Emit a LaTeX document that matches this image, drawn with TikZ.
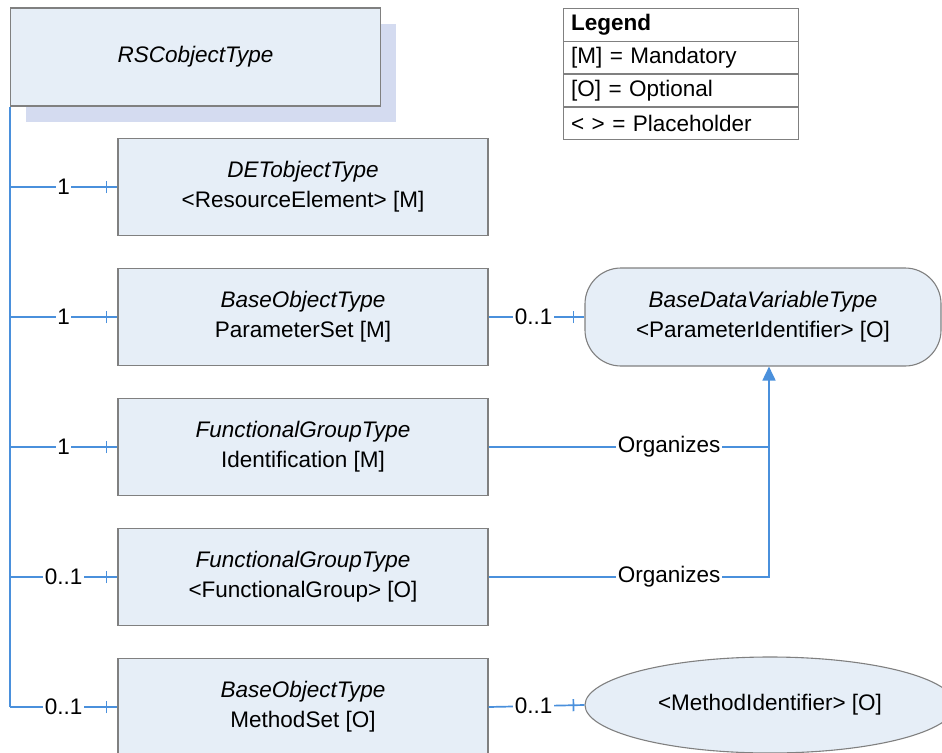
\documentclass[tikz,border=0pt]{standalone}
\usepackage{fontspec}
\setmainfont{Liberation Sans}
\usetikzlibrary{arrows.meta,shapes.geometric,decorations.markings}
\definecolor{boxfill}{RGB}{230,238,247}
\definecolor{shadowc}{RGB}{212,219,240}
\definecolor{bordc}{RGB}{128,128,128}
\definecolor{linec}{RGB}{74,144,220}
\tikzset{
  txt/.style={font=\fontsize{22.5}{30}\selectfont, text=black},
  ebox/.style={txt, draw=bordc, line width=1.1pt, fill=boxfill, minimum width=370pt, minimum height=97pt, align=center, inner sep=0pt},
  conn/.style={draw=linec, line width=1.7pt},
  lbl/.style={txt, fill=white, inner xsep=1.5pt, inner ysep=0pt},
  tickend/.style={postaction={decorate}, decoration={markings, mark=at position -11pt with {\draw[linec, line width=1.7pt] (0,-6pt) -- (0,6pt);}}},
  legrow/.style={txt, draw=bordc, line width=0.9pt, fill=white, minimum width=235pt, text width=219pt, inner xsep=8pt, inner ysep=0pt, align=left}
}
\begin{document}
\begin{tikzpicture}[x=1pt,y=-1pt]
\useasboundingbox (0,0) rectangle (942,752);
\clip (0,0) rectangle (942,752);
% shadow of top node
\fill[shadowc] (26,24) rectangle (396,122);
\node[ebox, minimum height=98pt] (rsc) at (195.5,57) {\textit{RSCobjectType}};
% legend
\node[legrow, minimum height=33pt] (lg0) at (680.5,24.5) {\textbf{Legend}};
\node[legrow, minimum height=32pt, anchor=north] (lg1) at (lg0.south) {[M] = Mandatory};
\node[legrow, minimum height=32pt, anchor=north] (lg2) at (lg1.south) {[O] = Optional};
\node[legrow, minimum height=32pt, anchor=north] (lg3) at (lg2.south) {< > = Placeholder};
% boxes
\node[ebox] (det) at (303,187) {\textit{DETobjectType}\\<ResourceElement> [M]};
\node[ebox] (bps) at (303,317) {\textit{BaseObjectType}\\ParameterSet [M]};
\node[ebox] (fg1) at (303,447) {\textit{FunctionalGroupType}\\Identification [M]};
\node[ebox] (fg2) at (303,577) {\textit{FunctionalGroupType}\\<FunctionalGroup> [O]};
\node[ebox] (meth) at (303,707) {\textit{BaseObjectType}\\MethodSet [O]};
\node[ebox, minimum width=356pt, minimum height=98pt, rounded corners=36pt] (bdv) at (763,317) {\textit{BaseDataVariableType}\\<ParameterIdentifier> [O]};
\node[ebox, ellipse, minimum width=370pt, minimum height=96pt] (mid) at (770,705) {<MethodIdentifier> [O]};
% trunk
\draw[conn] (rsc.south west) -- (rsc.south west |- meth.west);
\draw[conn,tickend] (rsc.south west |- det.west) -- node[lbl]{1} (det.west);
\draw[conn,tickend] (rsc.south west |- bps.west) -- node[lbl]{1} (bps.west);
\draw[conn,tickend] (rsc.south west |- fg1.west) -- node[lbl]{1} (fg1.west);
\draw[conn,tickend] (rsc.south west |- fg2.west) -- node[lbl]{0..1} (fg2.west);
\draw[conn,tickend] (rsc.south west |- meth.west) -- node[lbl]{0..1} (meth.west);
% right connectors
\draw[conn,tickend] (bps.east) -- node[lbl,pos=0.47]{0..1} (bdv.west);
\draw[conn,tickend] (meth.east) -- node[lbl,pos=0.47]{0..1} (mid.west);
\coordinate (ax) at (769,577);
\draw[conn] (fg1.east) -- node[lbl,pos=0.644]{Organizes} (fg1.east -| ax);
\draw[conn,-{Triangle[width=13pt,length=14pt]}] (fg2.east) -- node[lbl,pos=0.644]{Organizes} (ax) -- (ax |- bdv.south);
\end{tikzpicture}
\end{document}
